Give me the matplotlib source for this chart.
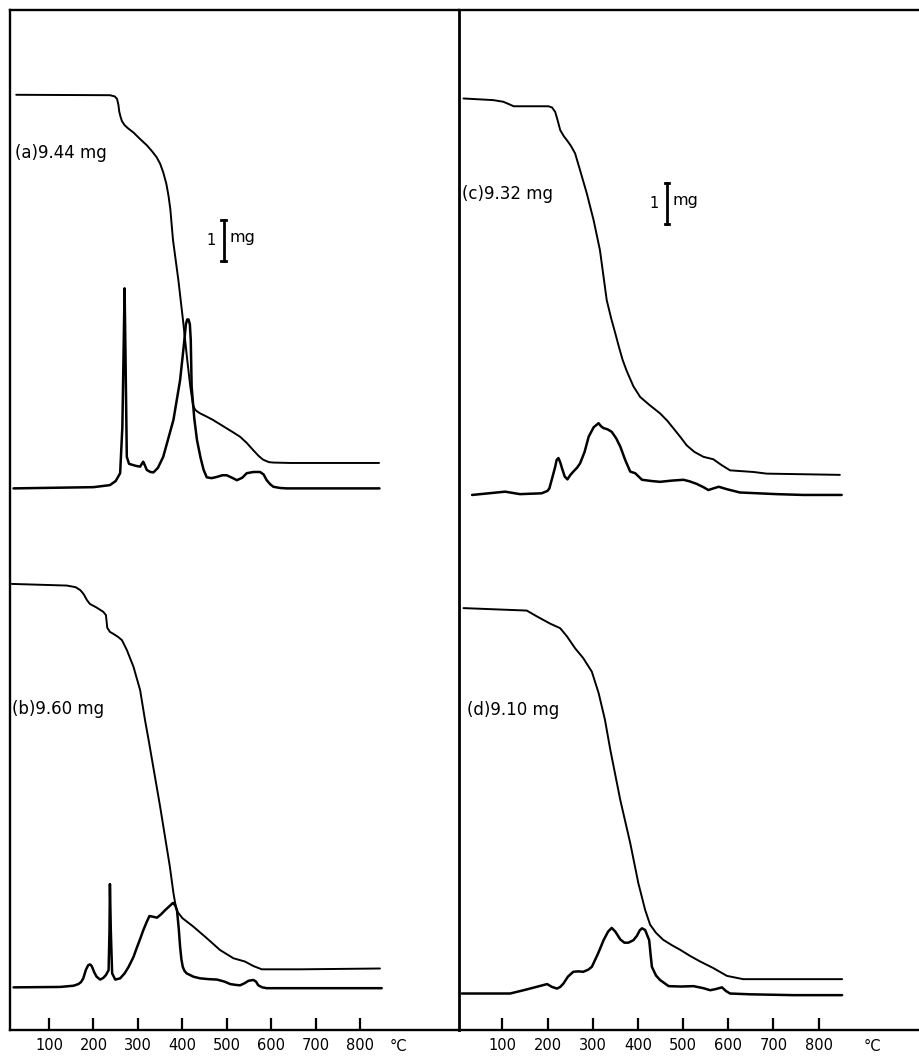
import numpy as np
import matplotlib
matplotlib.use("Agg")
import matplotlib.pyplot as plt
import matplotlib.transforms as mtransforms

# ============================
# TG (mass, mg) and DTG curves
# ============================
# (a) 9.44 mg
tg_a_T = [26, 237, 248, 253, 256, 258, 261, 264, 270, 278, 290, 305, 320, 332,
          342, 350, 357, 364, 369, 373, 379, 391, 402, 411, 418, 424, 427, 429,
          433, 440, 455, 469, 490, 514, 530, 545, 559, 572, 582, 595, 605, 643,
          843]
tg_a_m = [9.44, 9.43, 9.40, 9.34, 9.20, 9.03, 8.90, 8.80, 8.70, 8.62, 8.52,
          8.36, 8.21, 8.06, 7.92, 7.76, 7.55, 7.27, 6.97, 6.65, 5.90, 4.93,
          3.90, 2.98, 2.32, 1.88, 1.80, 1.76, 1.72, 1.67, 1.59, 1.51, 1.37,
          1.21, 1.10, 0.95, 0.78, 0.63, 0.54, 0.48, 0.47, 0.46, 0.46]
dtg_a_T = [20, 200, 237, 250, 260, 265, 268, 270, 272, 275, 280, 295, 305, 310,
           312, 315, 320, 328, 335, 345, 357, 368, 380, 395, 404, 408, 411, 414,
           417, 419, 421, 427, 433, 441, 448, 455, 466, 478, 490, 500, 512, 523,
           535, 545, 560, 575, 583, 590, 598, 605, 620, 635, 844]
dtg_a = [0, 0.03, 0.08, 0.18, 0.37, 1.5, 3.5, 4.88, 3.3, 0.77, 0.60, 0.55, 0.53,
         0.62, 0.65, 0.58, 0.45, 0.40, 0.39, 0.50, 0.77, 1.20, 1.67, 2.64, 3.55,
         4.00, 4.12, 4.12, 4.00, 3.62, 2.48, 1.70, 1.18, 0.75, 0.45, 0.27, 0.25,
         0.28, 0.32, 0.32, 0.26, 0.20, 0.26, 0.37, 0.40, 0.40, 0.34, 0.20, 0.10,
         0.04, 0.01, 0, 0]

# (b) 9.60 mg
tg_b_T = [16, 140, 160, 170, 175, 179, 182, 185, 192, 206, 222, 228, 231, 237,
          245, 255, 264, 275, 290, 305, 316, 324, 350, 372, 380, 384, 388, 400,
          425, 455, 485, 515, 541, 560, 579, 665, 845]
tg_b_m = [9.60, 9.56, 9.52, 9.45, 9.39, 9.33, 9.27, 9.21, 9.11, 9.03, 8.92,
          8.84, 8.53, 8.43, 8.38, 8.31, 8.23, 7.99, 7.58, 7.01, 6.28, 5.80,
          4.17, 2.70, 2.06, 1.81, 1.62, 1.45, 1.24, 0.96, 0.67, 0.47, 0.39,
          0.28, 0.20, 0.20, 0.22]
dtg_b_T = [20, 125, 155, 166, 172, 177, 183, 188, 192, 196, 202, 207, 215, 222,
           228, 234, 236, 237, 239, 242, 249, 260, 270, 279, 290, 297, 305, 312,
           320, 326, 335, 343, 352, 361, 370, 379, 384, 388, 392, 395, 398, 401,
           405, 410, 425, 440, 460, 478, 495, 508, 520, 530, 540, 549, 560, 566,
           571, 580, 590, 849]
dtg_b = [0.02, 0.03, 0.06, 0.10, 0.15, 0.24, 0.45, 0.56, 0.58, 0.54, 0.38,
         0.28, 0.21, 0.25, 0.32, 0.44, 1.4, 2.54, 1.4, 0.36, 0.21, 0.24, 0.36,
         0.52, 0.76, 0.97, 1.20, 1.41, 1.62, 1.76, 1.74, 1.72, 1.80, 1.90, 1.99,
         2.08, 2.02, 1.90, 1.45, 1.01, 0.70, 0.52, 0.42, 0.36, 0.28, 0.24, 0.22,
         0.21, 0.16, 0.10, 0.08, 0.07, 0.12, 0.18, 0.20, 0.16, 0.07, 0.02, 0, 0]

# (c) 9.32 mg
tg_c_T = [14, 80, 102, 115, 125, 202, 210, 217, 222, 228, 236, 243, 252, 261,
          272, 287, 302, 316, 331, 341, 350, 357, 366, 375, 390, 405, 425, 449,
          465, 479, 495, 508, 525, 545, 567, 585, 604, 656, 685, 847]
tg_c_m = [9.32, 9.28, 9.24, 9.18, 9.13, 9.13, 9.10, 8.99, 8.80, 8.55, 8.40,
          8.30, 8.16, 7.98, 7.57, 7.00, 6.35, 5.62, 4.40, 3.95, 3.59, 3.30,
          2.95, 2.68, 2.30, 2.04, 1.85, 1.64, 1.46, 1.27, 1.05, 0.86, 0.70,
          0.58, 0.52, 0.38, 0.25, 0.21, 0.17, 0.14]
dtg_c_T = [33, 106, 139, 187, 200, 204, 210, 217, 220, 224, 228, 232, 238, 244,
           250, 257, 265, 272, 282, 291, 302, 313, 318, 324, 333, 342, 352, 361,
           372, 383, 394, 409, 430, 449, 475, 501, 515, 530, 545, 556, 570, 579,
           588, 597, 626, 707, 766, 851]
dtg_c = [0, 0.08, 0.02, 0.04, 0.10, 0.16, 0.40, 0.69, 0.85, 0.90, 0.80, 0.65,
         0.45, 0.38, 0.48, 0.57, 0.66, 0.77, 1.05, 1.42, 1.65, 1.75, 1.68, 1.63,
         1.60, 1.54, 1.38, 1.18, 0.85, 0.57, 0.53, 0.37, 0.34, 0.32, 0.35, 0.37,
         0.33, 0.27, 0.19, 0.12, 0.17, 0.20, 0.17, 0.14, 0.06, 0.02, 0, 0]

# (d) 9.10 mg
tg_d_T = [14, 154, 176, 206, 228, 243, 261, 279, 298, 313, 327, 339, 361, 383,
          401, 410, 416, 427, 440, 456, 475, 493, 515, 538, 567, 597, 633, 744,
          852]
tg_d_m = [9.10, 9.04, 8.90, 8.72, 8.61, 8.41, 8.12, 7.88, 7.55, 7.03, 6.38,
          5.64, 4.42, 3.37, 2.39, 2.00, 1.74, 1.38, 1.18, 1.01, 0.88, 0.77,
          0.62, 0.48, 0.32, 0.13, 0.05, 0.05, 0.05]
dtg_d_T = [10, 117, 147, 175, 199, 210, 221, 228, 235, 245, 257, 268, 279, 290,
           298, 312, 324, 334, 342, 350, 361, 370, 379, 390, 398, 404, 409, 416,
           421, 425, 428, 431, 440, 449, 468, 495, 523, 545, 560, 573, 586, 595,
           604, 650, 744, 852]
dtg_d = [0.04, 0.04, 0.12, 0.20, 0.27, 0.20, 0.16, 0.20, 0.28, 0.45, 0.57, 0.58,
         0.57, 0.62, 0.69, 1.02, 1.34, 1.55, 1.64, 1.55, 1.36, 1.28, 1.28, 1.34,
         1.45, 1.58, 1.63, 1.59, 1.45, 1.34, 1.00, 0.69, 0.48, 0.37, 0.22, 0.21,
         0.22, 0.17, 0.12, 0.15, 0.19, 0.10, 0.04, 0.02, 0, 0]

labels = ["(a)9.44 mg", "(b)9.60 mg", "(c)9.32 mg", "(d)9.10 mg"]
tick_T = [100, 200, 300, 400, 500, 600, 700, 800]
tick_labels = ["100", "200", "300", "400", "500", "600", "700", "800"]

# vertical placement of each trace (in mg units from the bottom axis)
tg_off = {"a": 13.37, "b": 1.28, "c": 13.40, "d": 1.19}
dtg_off = {"a": 13.21, "b": 1.02, "c": 13.05, "d": 0.85}

W, H = 919, 1059
fig = plt.figure(figsize=(W / 100, H / 100), dpi=100)
fig.patch.set_facecolor("white")

bot = (H - 1030) / H
hgt = 1020 / H
axL = fig.add_axes([10 / W, bot, 449 / W, hgt])
axR = fig.add_axes([459 / W, bot, 459 / W, hgt])
axR.patch.set_alpha(0)
axL.set_xlim(12, 1023)
axR.set_xlim(4, 1020)
for ax in (axL, axR):
    ax.set_ylim(0, 1020 / 41)
    ax.set_yticks([])
    ax.set_xticks(tick_T)
    ax.set_xticklabels(tick_labels, fontsize=10.5)
    ax.tick_params(axis="x", direction="in", length=8.5, width=1.6, pad=6)
    for s in ax.spines.values():
        s.set_linewidth(1.7)
axL.spines["right"].set_linewidth(2.0)
axR.spines["left"].set_visible(False)
axR.spines["right"].set_visible(False)

col = "black"
panels = [
    (axL, "a", tg_a_T, tg_a_m, dtg_a_T, dtg_a),
    (axL, "b", tg_b_T, tg_b_m, dtg_b_T, dtg_b),
    (axR, "c", tg_c_T, tg_c_m, dtg_c_T, dtg_c),
    (axR, "d", tg_d_T, tg_d_m, dtg_d_T, dtg_d),
]
for ax, key, tT, tm, dT, dv in panels:
    ax.plot(tT, np.array(tm) + tg_off[key], color=col, lw=1.4,
            solid_joinstyle="round", solid_capstyle="round")
    ax.plot(dT, np.array(dv) + dtg_off[key], color=col, lw=1.8,
            solid_joinstyle="round", solid_capstyle="round")

# sample labels
lab_kw = dict(fontsize=12, va="center", ha="left")
axL.text(23, 21.39, labels[0], **lab_kw)
axL.text(17, 7.83, labels[1], **lab_kw)
axR.text(10, 20.39, labels[2], **lab_kw)
axR.text(22, 7.80, labels[3], **lab_kw)

# 1 mg scale bars
for ax, xb, yb, x1, xmg in [(axL, 493, 18.76, 465, 506),
                            (axR, 464, 19.66, 435, 477)]:
    ax.plot([xb, xb], [yb, yb + 1], color=col, lw=2.0)
    ax.plot([xb - 5, xb + 5], [yb, yb], color=col, lw=2.0)
    ax.plot([xb - 5, xb + 5], [yb + 1, yb + 1], color=col, lw=2.0)
    ax.text(x1, yb + 0.5, "1", fontsize=10.5, va="center", ha="center")
    ax.text(xmg, yb + 0.58, "mg", fontsize=11.5, va="center", ha="left")

# degree labels below axes
for ax, xd in [(axL, 886), (axR, 918)]:
    tr = mtransforms.blended_transform_factory(ax.transData, ax.transAxes)
    ax.text(xd, -0.016, "°C", transform=tr, fontsize=10.5, ha="center",
            va="center", clip_on=False)

fig.savefig("out.png", dpi=100)
